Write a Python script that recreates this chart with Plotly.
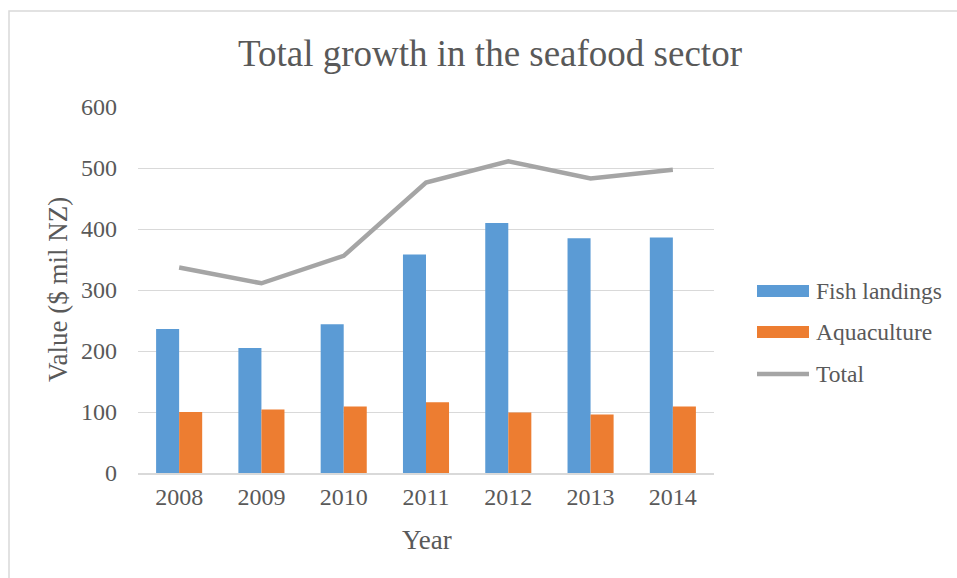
import plotly.graph_objects as go

years = ["2008", "2009", "2010", "2011", "2012", "2013", "2014"]
fish_landings = [236, 205, 244, 358, 410, 385, 386]
aquaculture = [100, 104, 109, 116, 99, 96, 109]
total = [337, 311, 356, 476, 511, 483, 497]

W, H = 957, 578
L, R, T, B = 138, 714, 107, 473  # plot area pixel box

def px(x):
    return (x - L) / (R - L)

def py(y):
    return (B - y) / (B - T)

FONT = "Liberation Serif, Times New Roman, serif"
TXT = "#595959"
BLUE, ORANGE, GRAY = "#5B9BD5", "#ED7D31", "#A5A5A5"

fig = go.Figure()
fig.add_trace(go.Bar(x=years, y=fish_landings, name="Fish landings",
                     marker=dict(color=BLUE, line=dict(width=0)), showlegend=False))
fig.add_trace(go.Bar(x=years, y=aquaculture, name="Aquaculture",
                     marker=dict(color=ORANGE, line=dict(width=0)), showlegend=False))
fig.add_trace(go.Scatter(x=years, y=total, name="Total", mode="lines",
                         line=dict(color=GRAY, width=4.5), showlegend=False))

shapes = [
    dict(type="rect", xref="paper", yref="paper", x0=px(9), x1=px(990), y0=py(11), y1=py(600),
         line=dict(color="#D9D9D9", width=1.5), fillcolor="rgba(0,0,0,0)", layer="below"),
]
annotations = [
    dict(text="Total growth in the seafood sector", xref="paper", yref="paper",
         x=px(490), y=py(54), xanchor="center", yanchor="middle", showarrow=False,
         font=dict(family=FONT, size=37, color=TXT)),
    dict(text="Year", xref="paper", yref="paper", x=px(427), y=py(540),
         xanchor="center", yanchor="middle", showarrow=False,
         font=dict(family=FONT, size=27, color=TXT)),
    dict(text="Value ($ mil NZ)", xref="paper", yref="paper", x=px(58), y=py(290),
         xanchor="center", yanchor="middle", showarrow=False, textangle=-90,
         font=dict(family=FONT, size=27, color=TXT)),
]

legend_items = [("Fish landings", BLUE, "bar", 291), ("Aquaculture", ORANGE, "bar", 332), ("Total", GRAY, "line", 374)]
for name, col, kind, yc in legend_items:
    if kind == "bar":
        shapes.append(dict(type="rect", xref="paper", yref="paper", x0=px(757), x1=px(809),
                           y0=py(yc + 6), y1=py(yc - 6), line=dict(width=0), fillcolor=col))
    else:
        shapes.append(dict(type="line", xref="paper", yref="paper", x0=px(757), x1=px(809),
                           y0=py(yc), y1=py(yc), line=dict(color=col, width=4.5)))
    annotations.append(dict(text=name, xref="paper", yref="paper", x=px(814), y=py(yc),
                            xanchor="left", yanchor="middle", showarrow=False,
                            font=dict(family=FONT, size=23.5, color=TXT)))

fig.update_layout(
    width=W, height=H,
    margin=dict(l=L, r=W - R, t=T, b=H - B, pad=0),
    paper_bgcolor="white", plot_bgcolor="white",
    barmode="group", bargap=0.44, bargroupgap=0,
    font=dict(family=FONT, size=24, color=TXT),
    shapes=shapes, annotations=annotations,
    showlegend=False,
    xaxis=dict(type="category", showgrid=False, zeroline=False,
               showline=True, linecolor="#D9D9D9", linewidth=1.5,
               ticks="", ticklabelstandoff=1,
               tickfont=dict(family=FONT, size=24, color=TXT), fixedrange=True),
    yaxis=dict(range=[0, 600], tickvals=[0, 100, 200, 300, 400, 500, 600],
               showgrid=True, gridcolor="#D9D9D9", gridwidth=1.3, zeroline=False,
               showline=False, ticks="", ticklabelstandoff=20,
               tickfont=dict(family=FONT, size=24, color=TXT), fixedrange=True),
)

fig.write_html("out.html")
